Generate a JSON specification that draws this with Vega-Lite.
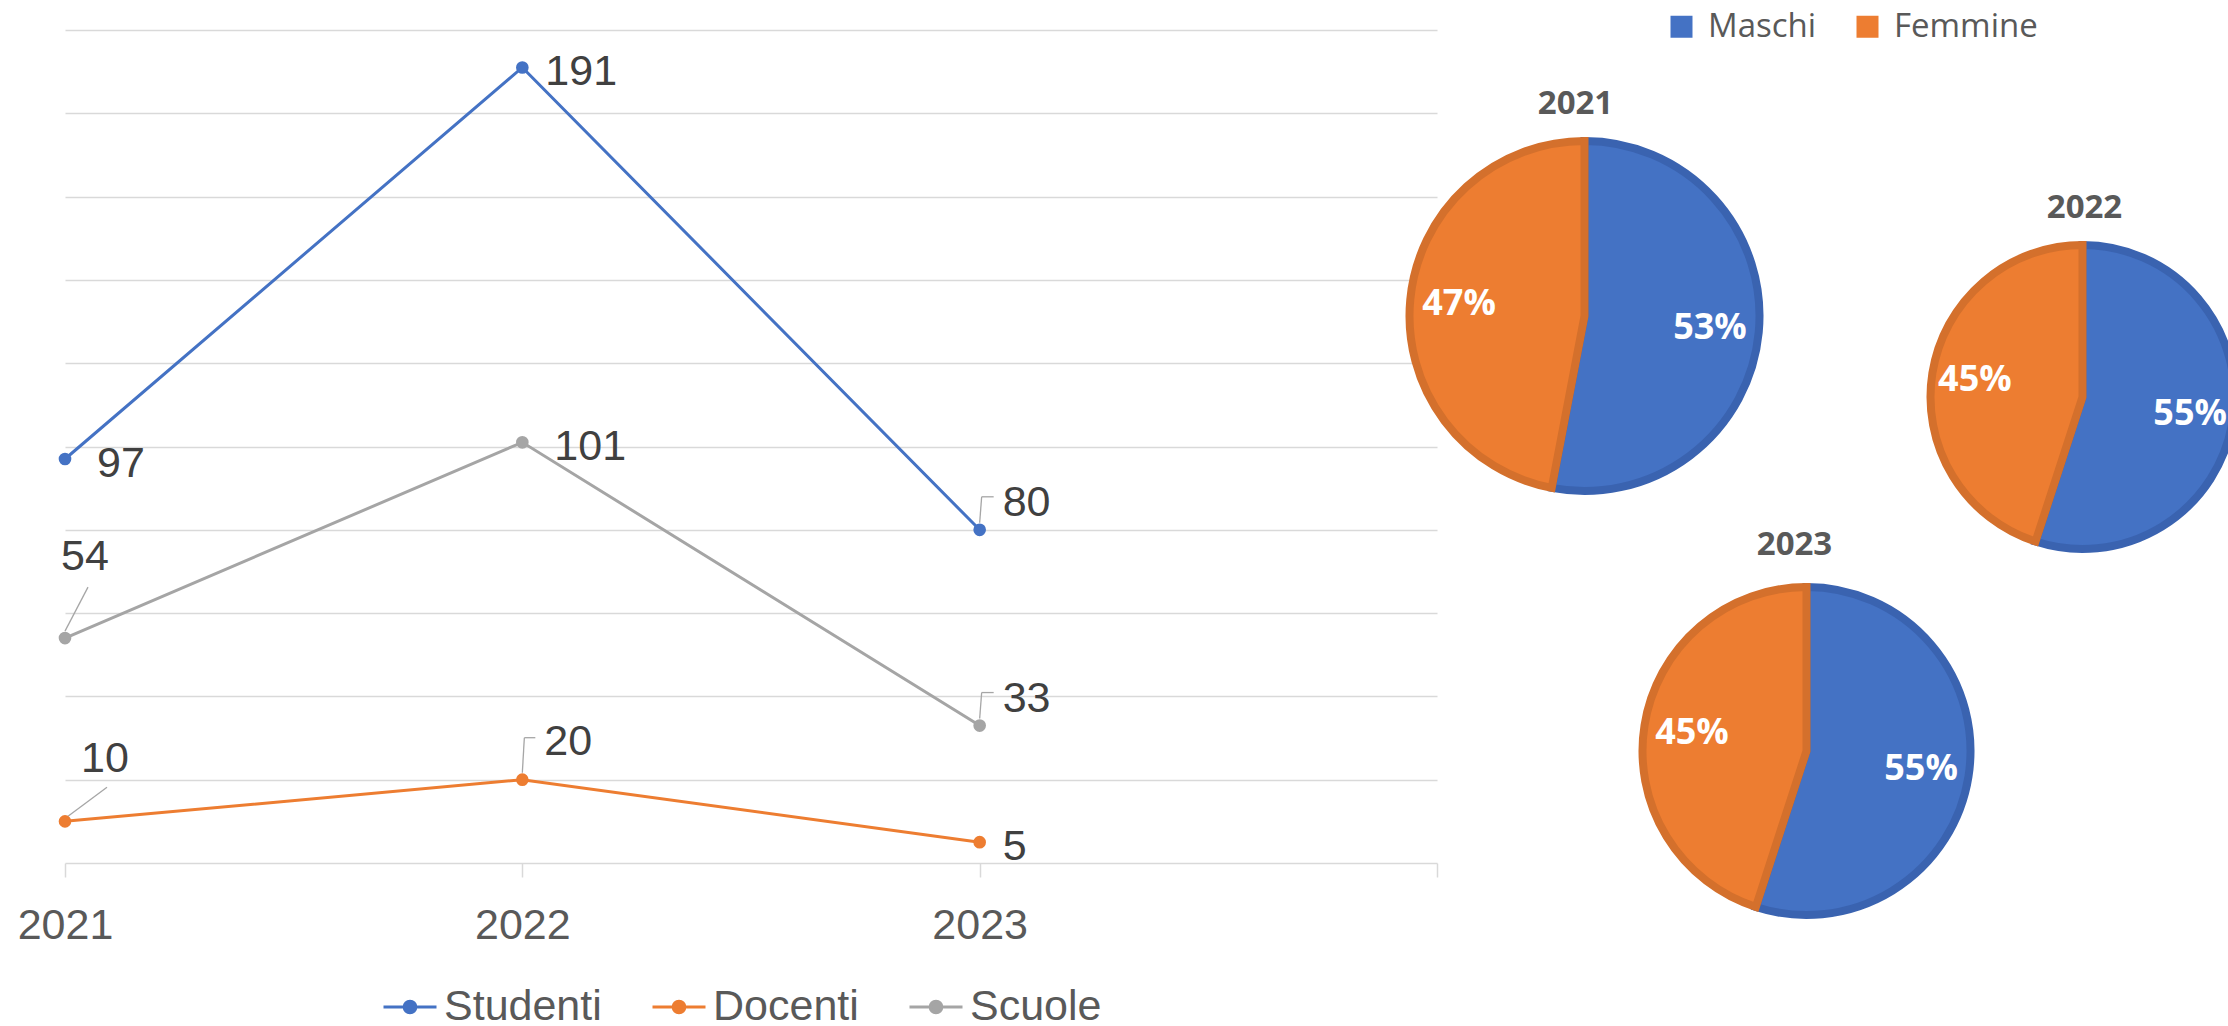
{
  "$schema": "https://vega.github.io/schema/vega-lite/v6.json",
  "background": "white",
  "padding": {"left": 17, "top": 10, "right": 0, "bottom": 0},
  "spacing": 0,
  "bounds": "flush",
  "config": {"view": {"stroke": null}, "font": "Liberation Sans"},
  "datasets": {
    "serie": [
      {"anno": 2021, "serie": "Studenti", "valore": 97},
      {"anno": 2022, "serie": "Studenti", "valore": 191},
      {"anno": 2023, "serie": "Studenti", "valore": 80},
      {"anno": 2021, "serie": "Docenti", "valore": 10},
      {"anno": 2022, "serie": "Docenti", "valore": 20},
      {"anno": 2023, "serie": "Docenti", "valore": 5},
      {"anno": 2021, "serie": "Scuole", "valore": 54},
      {"anno": 2022, "serie": "Scuole", "valore": 101},
      {"anno": 2023, "serie": "Scuole", "valore": 33}
    ],
    "torte": [
      {"anno": "2021", "genere": "Maschi", "quota": 0.53},
      {"anno": "2021", "genere": "Femmine", "quota": 0.47},
      {"anno": "2022", "genere": "Maschi", "quota": 0.55},
      {"anno": "2022", "genere": "Femmine", "quota": 0.45},
      {"anno": "2023", "genere": "Maschi", "quota": 0.55},
      {"anno": "2023", "genere": "Femmine", "quota": 0.45}
    ]
  },
  "hconcat": [
    {
      "width": 1372,
      "height": 833,
      "data": {"name": "serie"},
      "encoding": {
        "x": {
          "field": "anno", "type": "quantitative",
          "scale": {"domain": [2021, 2024], "nice": false, "zero": false},
          "axis": {
            "title": null, "values": [2021, 2022, 2023, 2024], "format": "d",
            "labelExpr": "datum.value == 2024 ? '' : datum.label",
            "labelFlush": false, "labelOverlap": false, "labelBound": false, "grid": false,
            "domainColor": "#D9D9D9", "domainWidth": 1.5,
            "tickColor": "#D9D9D9", "tickWidth": 1.5, "tickSize": 14,
            "labelFontSize": 43, "labelFont": "Liberation Sans", "labelColor": "#595959", "labelPadding": 27
          }
        },
        "y": {
          "field": "valore", "type": "quantitative",
          "scale": {"domain": [0, 200], "nice": false},
          "axis": {
            "title": null, "values": [20, 40, 60, 80, 100, 120, 140, 160, 180, 200],
            "labels": false, "ticks": false, "domain": false, "grid": true,
            "gridColor": "#D9D9D9", "gridWidth": 1.5
          }
        }
      },
      "layer": [
        {
          "transform": [{"filter": "datum.anno == 2023 && (datum.serie == 'Studenti' || datum.serie == 'Scuole')"}],
          "mark": {"type": "rule", "color": "#A6A6A6", "strokeWidth": 1.3, "yOffset": -7, "x2Offset": 2, "y2Offset": -33},
          "encoding": {"x2": {"field": "anno"}, "y2": {"field": "valore"}}
        },
        {
          "transform": [{"filter": "datum.anno == 2023 && (datum.serie == 'Studenti' || datum.serie == 'Scuole')"}],
          "mark": {"type": "rule", "color": "#A6A6A6", "strokeWidth": 1.3, "xOffset": 2, "yOffset": -33, "x2Offset": 14, "y2Offset": -33},
          "encoding": {"x2": {"field": "anno"}, "y2": {"field": "valore"}}
        },
        {
          "transform": [{"filter": "datum.anno == 2022 && datum.serie == 'Docenti'"}],
          "mark": {"type": "rule", "color": "#A6A6A6", "strokeWidth": 1.3, "yOffset": -7, "x2Offset": 2, "y2Offset": -42},
          "encoding": {"x2": {"field": "anno"}, "y2": {"field": "valore"}}
        },
        {
          "transform": [{"filter": "datum.anno == 2022 && datum.serie == 'Docenti'"}],
          "mark": {"type": "rule", "color": "#A6A6A6", "strokeWidth": 1.3, "xOffset": 2, "yOffset": -42, "x2Offset": 13, "y2Offset": -42},
          "encoding": {"x2": {"field": "anno"}, "y2": {"field": "valore"}}
        },
        {
          "transform": [{"filter": "datum.anno == 2021 && datum.serie == 'Scuole'"}],
          "mark": {"type": "rule", "color": "#A6A6A6", "strokeWidth": 1.3, "yOffset": -7, "x2Offset": 23, "y2Offset": -51},
          "encoding": {"x2": {"field": "anno"}, "y2": {"field": "valore"}}
        },
        {
          "transform": [{"filter": "datum.anno == 2021 && datum.serie == 'Docenti'"}],
          "mark": {"type": "rule", "color": "#A6A6A6", "strokeWidth": 1.3, "xOffset": 3, "yOffset": -5, "x2Offset": 42, "y2Offset": -34},
          "encoding": {"x2": {"field": "anno"}, "y2": {"field": "valore"}}
        },
        {
          "mark": {"type": "line", "strokeWidth": 3},
          "encoding": {
            "color": {
              "field": "serie", "type": "nominal",
              "scale": {"domain": ["Studenti", "Docenti", "Scuole"], "range": ["#4472C4", "#ED7D31", "#A5A5A5"]},
              "legend": {
                "orient": "none", "legendX": 317, "legendY": 949, "direction": "horizontal", "title": null,
                "symbolType": "M-1,0H1M0.22,0A0.22,0.22,0,1,1,-0.22,0A0.22,0.22,0,1,1,0.22,0Z",
                "symbolSize": 2809, "symbolStrokeWidth": 3,
                "labelFontSize": 43, "labelFont": "Liberation Sans", "labelColor": "#595959",
                "labelOffset": 6, "columnPadding": 44
              }
            }
          }
        },
        {
          "mark": {"type": "point", "filled": true, "size": 160, "opacity": 1},
          "encoding": {
            "color": {
              "field": "serie", "type": "nominal",
              "scale": {"domain": ["Studenti", "Docenti", "Scuole"], "range": ["#4472C4", "#ED7D31", "#A5A5A5"]}
            }
          }
        },
        {
          "transform": [{"filter": "(datum.anno == 2022 && datum.serie == 'Studenti') || (datum.anno == 2023 && datum.serie == 'Docenti')"}],
          "mark": {"type": "text", "align": "left", "baseline": "middle", "dx": 23, "dy": 5, "fontSize": 43, "font": "Liberation Sans", "fill": "#404040"},
          "encoding": {"text": {"field": "valore", "type": "quantitative"}}
        },
        {
          "transform": [{"filter": "(datum.anno == 2021 && datum.serie == 'Studenti') || (datum.anno == 2022 && datum.serie == 'Scuole')"}],
          "mark": {"type": "text", "align": "left", "baseline": "middle", "dx": 32, "dy": 5, "fontSize": 43, "font": "Liberation Sans", "fill": "#404040"},
          "encoding": {"text": {"field": "valore", "type": "quantitative"}}
        },
        {
          "transform": [{"filter": "datum.anno == 2023 && (datum.serie == 'Studenti' || datum.serie == 'Scuole')"}],
          "mark": {"type": "text", "align": "left", "baseline": "middle", "dx": 23, "dy": -27, "fontSize": 43, "font": "Liberation Sans", "fill": "#404040"},
          "encoding": {"text": {"field": "valore", "type": "quantitative"}}
        },
        {
          "transform": [{"filter": "datum.anno == 2022 && datum.serie == 'Docenti'"}],
          "mark": {"type": "text", "align": "left", "baseline": "middle", "dx": 22, "dy": -37.5, "fontSize": 43, "font": "Liberation Sans", "fill": "#404040"},
          "encoding": {"text": {"field": "valore", "type": "quantitative"}}
        },
        {
          "transform": [{"filter": "datum.anno == 2021 && datum.serie == 'Scuole'"}],
          "mark": {"type": "text", "align": "left", "baseline": "middle", "dx": -4, "dy": -81, "fontSize": 43, "font": "Liberation Sans", "fill": "#404040"},
          "encoding": {"text": {"field": "valore", "type": "quantitative"}}
        },
        {
          "transform": [{"filter": "datum.anno == 2021 && datum.serie == 'Docenti'"}],
          "mark": {"type": "text", "align": "left", "baseline": "middle", "dx": 16, "dy": -62.5, "fontSize": 43, "font": "Liberation Sans", "fill": "#404040"},
          "encoding": {"text": {"field": "valore", "type": "quantitative"}}
        }
      ]
    },
    {
      "width": 295,
      "height": 572,
      "data": {"name": "torte"},
      "transform": [{"filter": "datum.anno == '2021'"}],
      "layer": [
        {
          "mark": {"type": "arc", "outerRadius": 175, "strokeWidth": 8},
          "encoding": {
            "theta": {"field": "quota", "type": "quantitative", "stack": true},
            "order": {"field": "genere", "type": "ordinal", "sort": "descending"},
            "fill": {
              "field": "genere", "type": "nominal",
              "scale": {"domain": ["Maschi", "Femmine"], "range": ["#4472C4", "#ED7D31"]},
              "legend": {
                "orient": "none", "legendX": 1600, "legendY": -20, "direction": "horizontal", "title": null,
                "symbolType": "square", "symbolSize": 484, "symbolStrokeWidth": 0,
                "labelFontSize": 33, "labelFont": "Open Sans", "labelColor": "#595959",
                "labelOffset": 10, "columnPadding": 34
              }
            },
            "stroke": {
              "field": "genere", "type": "nominal",
              "scale": {"domain": ["Maschi", "Femmine"], "range": ["#3A63B0", "#D4702C"]},
              "legend": null
            }
          }
        },
        {
          "mark": {"type": "text", "radius": 126, "fill": "white", "font": "Open Sans", "fontWeight": "bold", "fontSize": 36, "baseline": "middle"},
          "encoding": {
            "theta": {"field": "quota", "type": "quantitative", "stack": true},
            "order": {"field": "genere", "type": "ordinal", "sort": "descending"},
            "detail": {"field": "genere", "type": "nominal"},
            "text": {"field": "quota", "type": "quantitative", "format": ".0%"}
          }
        },
        {
          "transform": [{"filter": "datum.genere == 'Maschi'"}],
          "mark": {"type": "text", "dx": -9, "dy": -212, "baseline": "middle", "font": "Open Sans", "fontWeight": "bold", "fontSize": 33, "fill": "#595959"},
          "encoding": {"text": {"field": "anno", "type": "nominal"}}
        }
      ]
    },
    {
      "width": 149,
      "height": 1442,
      "data": {"name": "torte"},
      "transform": [{"filter": "datum.anno == '2023'"}],
      "layer": [
        {
          "mark": {"type": "arc", "outerRadius": 164, "strokeWidth": 8},
          "encoding": {
            "theta": {"field": "quota", "type": "quantitative", "stack": true},
            "order": {"field": "genere", "type": "ordinal", "sort": "descending"},
            "fill": {
              "field": "genere", "type": "nominal",
              "scale": {"domain": ["Maschi", "Femmine"], "range": ["#4472C4", "#ED7D31"]},
              "legend": {
                "orient": "none", "legendX": 1600, "legendY": -20, "direction": "horizontal", "title": null,
                "symbolType": "square", "symbolSize": 484, "symbolStrokeWidth": 0,
                "labelFontSize": 33, "labelFont": "Open Sans", "labelColor": "#595959",
                "labelOffset": 10, "columnPadding": 34
              }
            },
            "stroke": {
              "field": "genere", "type": "nominal",
              "scale": {"domain": ["Maschi", "Femmine"], "range": ["#3A63B0", "#D4702C"]},
              "legend": null
            }
          }
        },
        {
          "mark": {"type": "text", "radius": 116, "fill": "white", "font": "Open Sans", "fontWeight": "bold", "fontSize": 36, "baseline": "middle"},
          "encoding": {
            "theta": {"field": "quota", "type": "quantitative", "stack": true},
            "order": {"field": "genere", "type": "ordinal", "sort": "descending"},
            "detail": {"field": "genere", "type": "nominal"},
            "text": {"field": "quota", "type": "quantitative", "format": ".0%"}
          }
        },
        {
          "transform": [{"filter": "datum.genere == 'Maschi'"}],
          "mark": {"type": "text", "dx": -12, "dy": -206, "baseline": "middle", "font": "Open Sans", "fontWeight": "bold", "fontSize": 33, "fill": "#595959"},
          "encoding": {"text": {"field": "anno", "type": "nominal"}}
        }
      ]
    },
    {
      "width": 403,
      "height": 734,
      "data": {"name": "torte"},
      "transform": [{"filter": "datum.anno == '2022'"}],
      "layer": [
        {
          "mark": {"type": "arc", "outerRadius": 152, "strokeWidth": 8},
          "encoding": {
            "theta": {"field": "quota", "type": "quantitative", "stack": true},
            "order": {"field": "genere", "type": "ordinal", "sort": "descending"},
            "fill": {
              "field": "genere", "type": "nominal",
              "scale": {"domain": ["Maschi", "Femmine"], "range": ["#4472C4", "#ED7D31"]},
              "legend": {
                "orient": "none", "legendX": 1600, "legendY": -20, "direction": "horizontal", "title": null,
                "symbolType": "square", "symbolSize": 484, "symbolStrokeWidth": 0,
                "labelFontSize": 33, "labelFont": "Open Sans", "labelColor": "#595959",
                "labelOffset": 10, "columnPadding": 34
              }
            },
            "stroke": {
              "field": "genere", "type": "nominal",
              "scale": {"domain": ["Maschi", "Femmine"], "range": ["#3A63B0", "#D4702C"]},
              "legend": null
            }
          }
        },
        {
          "mark": {"type": "text", "radius": 109, "fill": "white", "font": "Open Sans", "fontWeight": "bold", "fontSize": 36, "baseline": "middle"},
          "encoding": {
            "theta": {"field": "quota", "type": "quantitative", "stack": true},
            "order": {"field": "genere", "type": "ordinal", "sort": "descending"},
            "detail": {"field": "genere", "type": "nominal"},
            "text": {"field": "quota", "type": "quantitative", "format": ".0%"}
          }
        },
        {
          "transform": [{"filter": "datum.genere == 'Maschi'"}],
          "mark": {"type": "text", "dx": 2, "dy": -189, "baseline": "middle", "font": "Open Sans", "fontWeight": "bold", "fontSize": 33, "fill": "#595959"},
          "encoding": {"text": {"field": "anno", "type": "nominal"}}
        }
      ]
    }
  ]
}
